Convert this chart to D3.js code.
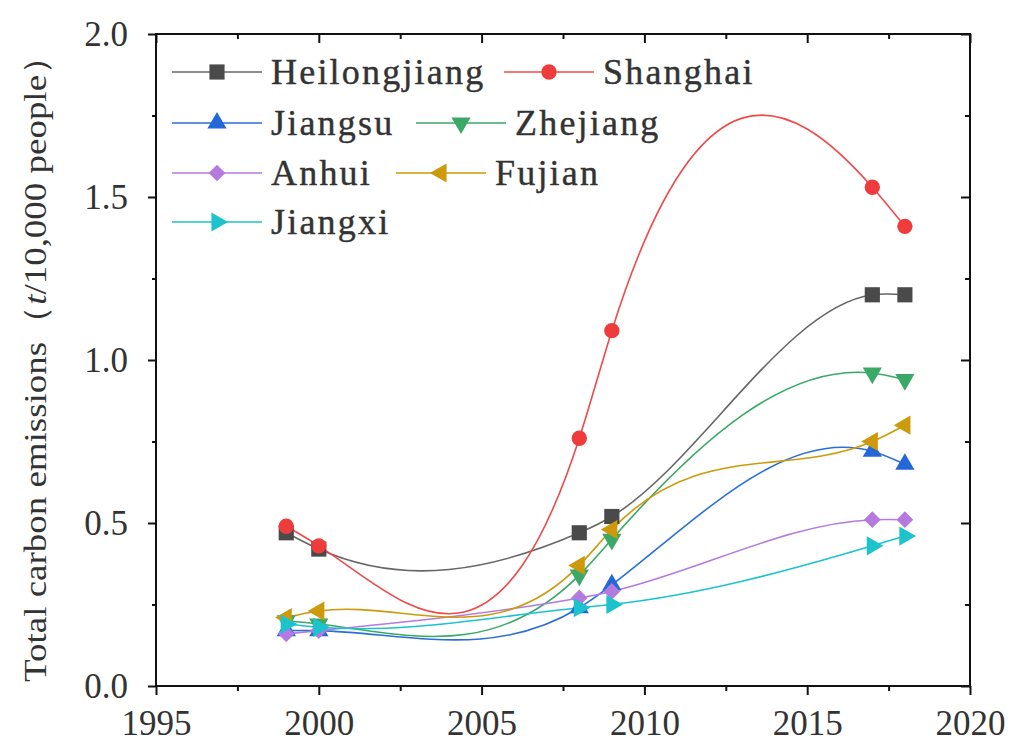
<!DOCTYPE html>
<html>
<head>
<meta charset="utf-8">
<script src="https://cdn.jsdelivr.net/npm/d3@7"></script>
<style>
  body { margin: 0; background: #fff; }
</style>
</head>
<body>
<div id="chart"></div>
<script>
// data
var years = [1999, 2000, 2008, 2009, 2017, 2018];
var heilongjiang = [0.47, 0.42, 0.47, 0.52, 1.20, 1.20];
var shanghai     = [0.49, 0.43, 0.76, 1.09, 1.53, 1.41];
var jiangsu      = [0.17, 0.17, 0.24, 0.31, 0.72, 0.68];
var zhejiang     = [0.20, 0.19, 0.34, 0.45, 0.96, 0.94];
var anhui        = [0.16, 0.17, 0.27, 0.29, 0.51, 0.51];
var fujian       = [0.21, 0.23, 0.37, 0.48, 0.75, 0.80];
var jiangxi      = [0.19, 0.18, 0.24, 0.25, 0.43, 0.46];
var seriesNames = ["Heilongjiang", "Shanghai", "Jiangsu", "Zhejiang", "Anhui", "Fujian", "Jiangxi"];
var xTicks = [1995, 2000, 2005, 2010, 2015, 2020];
var yTicks = [0, 0.5, 1.0, 1.5, 2.0];

var values = [heilongjiang, shanghai, jiangsu, zhejiang, anhui, fujian, jiangxi];
var colors = ["#4a4a4a", "#ee3b3b", "#2468d8", "#3aa866", "#b57ae0", "#cc9a0a", "#1cc3cc"];
var lineColors = ["#666", "#ee4a4a", "#2a6fd8", "#3aa866", "#b57ae0", "#cc9a0a", "#1cc3cc"];
var serif = "'Liberation Serif', 'Times New Roman', serif";
// marker: symbol type + rotation
var markers = [
  {type: d3.symbolSquare, size: 230, rot: 0},
  {type: d3.symbolCircle, size: 185, rot: 0},
  {type: d3.symbolTriangle, size: 160, rot: 0},
  {type: d3.symbolTriangle, size: 160, rot: 180},
  {type: d3.symbolSquare, size: 140, rot: 45},
  {type: d3.symbolTriangle, size: 160, rot: -90},
  {type: d3.symbolTriangle, size: 160, rot: 90}
];

var W = 1018, H = 744;
var margin = {top: 34, right: 48, bottom: 58, left: 156};
var width = W - margin.left - margin.right,
    height = H - margin.top - margin.bottom;

var svg = d3.select("#chart").append("svg")
  .attr("width", W).attr("height", H);
var g = svg.append("g")
  .attr("transform", "translate(" + margin.left + "," + margin.top + ")");

var x = d3.scaleLinear().domain([1995, 2020]).range([0, width]);
var y = d3.scaleLinear().domain([0, 2]).range([height, 0]);

// natural cubic spline in pixel space (x increasing) -> bezier path
function splinePath(pts) {
  var n = pts.length - 1, h = [], M = new Array(n + 1).fill(0);
  for (var i = 0; i < n; i++) h.push(pts[i + 1][0] - pts[i][0]);
  var a = [], b = [], c = [], r = [];
  for (var i = 1; i < n; i++) {
    a.push(h[i - 1]); b.push(2 * (h[i - 1] + h[i])); c.push(h[i]);
    r.push(6 * ((pts[i + 1][1] - pts[i][1]) / h[i] - (pts[i][1] - pts[i - 1][1]) / h[i - 1]));
  }
  var m = b.length;
  for (var i = 1; i < m; i++) {
    var w = a[i] / b[i - 1];
    b[i] -= w * c[i - 1];
    r[i] -= w * r[i - 1];
  }
  var sol = new Array(m);
  sol[m - 1] = r[m - 1] / b[m - 1];
  for (var i = m - 2; i >= 0; i--) sol[i] = (r[i] - c[i] * sol[i + 1]) / b[i];
  for (var i = 0; i < m; i++) M[i + 1] = sol[i];

  var p = d3.path();
  p.moveTo(pts[0][0], pts[0][1]);
  for (var i = 0; i < n; i++) {
    var hi = h[i], s = (pts[i + 1][1] - pts[i][1]) / hi;
    var d0 = s - hi * (2 * M[i] + M[i + 1]) / 6;
    var d1 = s + hi * (M[i] + 2 * M[i + 1]) / 6;
    p.bezierCurveTo(pts[i][0] + hi / 3, pts[i][1] + d0 * hi / 3,
                    pts[i + 1][0] - hi / 3, pts[i + 1][1] - d1 * hi / 3,
                    pts[i + 1][0], pts[i + 1][1]);
  }
  return p.toString();
}

// lines
values.forEach(function(vals, k) {
  var pts = years.map(function(yr, i) { return [x(yr), y(vals[i])]; });
  g.append("path")
    .attr("d", splinePath(pts))
    .attr("fill", "none")
    .attr("stroke", lineColors[k])
    .attr("stroke-width", 1.6);
});

// markers
values.forEach(function(vals, k) {
  var mk = markers[k];
  g.selectAll(null)
    .data(years.map(function(yr, i) { return {yr: yr, v: vals[i]}; }))
    .enter().append("path")
    .attr("d", d3.symbol().type(mk.type).size(mk.size))
    .attr("transform", function(d) {
      return "translate(" + x(d.yr) + "," + y(d.v) + ") rotate(" + mk.rot + ")";
    })
    .attr("fill", colors[k]);
});

// axes
var axStroke = "#111";
var xMinor = d3.range(1997.5, 2020, 5);
var yMinor = d3.range(0.25, 2, 0.5);

var xb = g.append("g").attr("transform", "translate(0," + height + ")")
  .call(d3.axisBottom(x).tickValues(xTicks).tickFormat(d3.format("d")).tickSize(9).tickPadding(15));
var xbm = g.append("g").attr("transform", "translate(0," + height + ")")
  .call(d3.axisBottom(x).tickValues(xMinor).tickFormat("").tickSize(5));
var xt = g.append("g")
  .call(d3.axisBottom(x).tickValues(xTicks).tickFormat("").tickSize(9));
var xtm = g.append("g")
  .call(d3.axisBottom(x).tickValues(xMinor).tickFormat("").tickSize(5));

var yl = g.append("g")
  .call(d3.axisLeft(y).tickValues(yTicks).tickFormat(d3.format(".1f")).tickSize(8).tickPadding(20));
var ylm = g.append("g")
  .call(d3.axisLeft(y).tickValues(yMinor).tickFormat("").tickSize(4));
var yr = g.append("g").attr("transform", "translate(" + width + ",0)")
  .call(d3.axisLeft(y).tickValues(yTicks).tickFormat("").tickSize(9));
var yrm = g.append("g").attr("transform", "translate(" + width + ",0)")
  .call(d3.axisLeft(y).tickValues(yMinor).tickFormat("").tickSize(5));

[xb, xbm, xt, xtm, yl, ylm, yr, yrm].forEach(function(a) {
  a.select(".domain").remove();
  a.selectAll("line").attr("stroke", axStroke).attr("stroke-width", 2);
  a.selectAll("text").style("font-size", "35px").attr("fill", "#333")
    .style("font-family", serif);
});

// frame
g.append("rect")
  .attr("x", 0).attr("y", 0).attr("width", width).attr("height", height)
  .attr("fill", "none").attr("stroke", axStroke).attr("stroke-width", 2);

// y axis title
var yt = svg.append("text")
  .attr("transform", "translate(46,360) rotate(-90)")
  .attr("text-anchor", "middle")
  .attr("textLength", 644).attr("lengthAdjust", "spacingAndGlyphs")
  .style("font-family", serif)
  .style("font-size", "32px").attr("fill", "#333");
yt.append("tspan").text("Total carbon emissions（");
yt.append("tspan").style("font-style", "italic").text("t");
yt.append("tspan").text("/10,000 people）");

// legend
var legendPos = [
  {lx: 172, ly: 72}, {lx: 504, ly: 72},
  {lx: 172, ly: 123}, {lx: 416, ly: 123},
  {lx: 172, ly: 173}, {lx: 396, ly: 173},
  {lx: 172, ly: 222}
];
var legend = svg.append("g");
seriesNames.forEach(function(name, k) {
  var p = legendPos[k], mk = markers[k];
  var lg = legend.append("g").attr("transform", "translate(" + p.lx + "," + p.ly + ")");
  lg.append("line").attr("x1", 0).attr("x2", 90).attr("y1", 0).attr("y2", 0)
    .attr("stroke", lineColors[k]).attr("stroke-width", 1.6);
  lg.append("path")
    .attr("d", d3.symbol().type(mk.type).size(mk.size))
    .attr("transform", "translate(45,0) rotate(" + mk.rot + ")")
    .attr("fill", colors[k]);
  lg.append("text").attr("x", 99).attr("y", 12)
    .style("font-family", serif)
    .style("font-size", "36px").style("letter-spacing", "2.2px")
    .attr("fill", "#333").attr("stroke", "#333").attr("stroke-width", 0.4)
    .text(name);
});
</script>
</body>
</html>
